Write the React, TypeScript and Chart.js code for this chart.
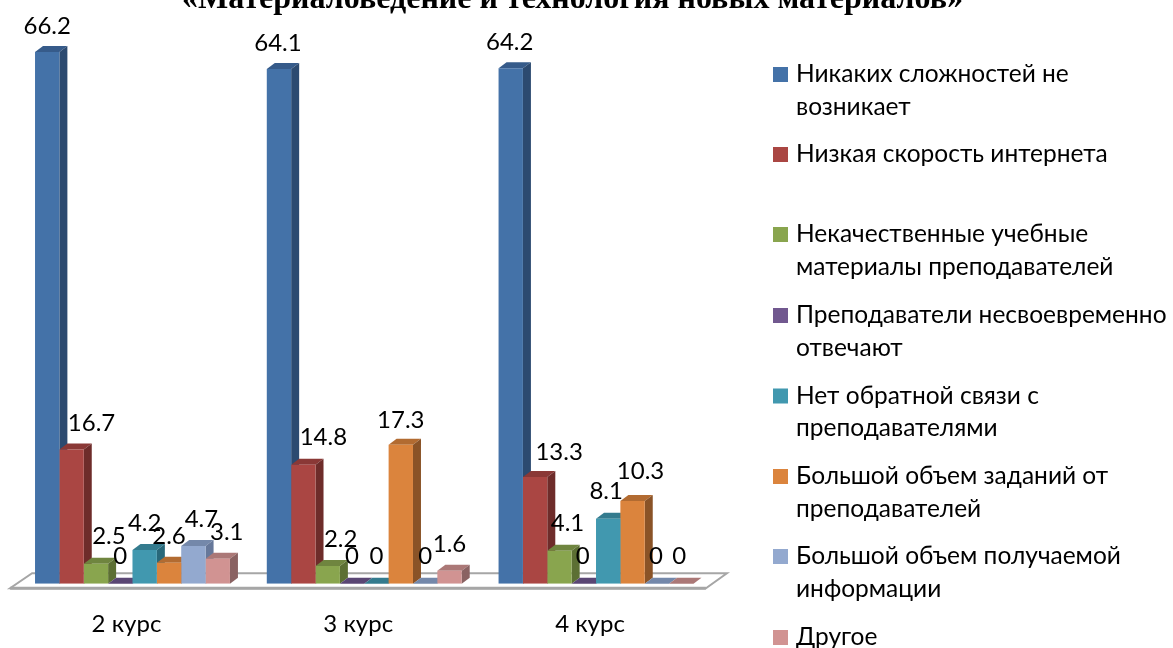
import React, { useEffect, useRef } from "react";
import { Chart, registerables } from "chart.js";

Chart.register(...registerables);

const TITLE = "«Материаловедение и технология новых материалов»";
const categories = ["2 курс", "3 курс", "4 курс"];
const seriesNames = [
  "Никаких сложностей не возникает",
  "Низкая скорость интернета",
  "Некачественные учебные материалы преподавателей",
  "Преподаватели несвоевременно отвечают",
  "Нет обратной связи с преподавателями",
  "Большой объем заданий от преподавателей",
  "Большой объем получаемой информации",
  "Другое",
];
const legendLines = [
  ["Никаких сложностей не", "возникает"],
  ["Низкая скорость интернета"],
  ["Некачественные учебные", "материалы преподавателей"],
  ["Преподаватели несвоевременно", "отвечают"],
  ["Нет обратной связи с", "преподавателями"],
  ["Большой объем заданий от", "преподавателей"],
  ["Большой объем получаемой", "информации"],
  ["Другое"],
];
const s1 = [66.2, 64.1, 64.2];
const s2 = [16.7, 14.8, 13.3];
const s3 = [2.5, 2.2, 4.1];
const s4 = [0, 0, 0];
const s5 = [4.2, 0, 8.1];
const s6 = [2.6, 17.3, 10.3];
const s7 = [4.7, 0, 0];
const s8 = [3.1, 1.6, 0];
const seriesValues = [s1, s2, s3, s4, s5, s6, s7, s8];

const frontColors = ["#4472a8", "#aa4643", "#89a54e", "#71588f", "#4198af", "#db843d", "#93a9cf", "#d19392"];
const topColors = ["#365b8a", "#8a3836", "#6f853f", "#5a4674", "#347b8e", "#b26b31", "#7488aa", "#ab7877"];
const sideColors = ["#2c4a70", "#6e2c2a", "#5c6f33", "#4a3a5f", "#28687a", "#8a5327", "#66789a", "#8a6262"];

// label offsets from the bar's top-centre (text centre x, baseline y), by series then category
const labelDx = [
  [0, -1, -1],
  [20, 20, 24],
  [13, 13, 8],
  [0, 0, -1],
  [0, 0, -2],
  [0, 0, 8],
  [8, 0, -1],
  [9, 0, -2],
];
const labelDy = [
  [-18, -18, -18],
  [-19, -20, -17],
  [-20, -19, -20],
  [-20, -20, -20],
  [-19, -20, -20],
  [-19, -17, -22],
  [-19, -20, -20],
  [-19, -19, -20],
];

const LEGEND_Y = [82, 162, 242, 323, 403.5, 484, 564, 645];
const LEGEND_LEADING = 32.5;
const FONT = "Lato, 'Open Sans', sans-serif";
const DEPTH_X = 8;
const DEPTH_Y = 6;

const poly = (ctx: CanvasRenderingContext2D, pts: number[][], fill: string) => {
  ctx.beginPath();
  pts.forEach((p, i) => (i ? ctx.lineTo(p[0], p[1]) : ctx.moveTo(p[0], p[1])));
  ctx.closePath();
  ctx.fillStyle = fill;
  ctx.fill();
};

const decor = {
  id: "decor",
  beforeDatasetsDraw(chart: any) {
    const { ctx, chartArea: a } = chart;
    // floor
    ctx.save();
    const fy = a.bottom + 4.5;
    const by = a.bottom - 10.5;
    ctx.beginPath();
    ctx.moveTo(a.left - 6.5, fy);
    ctx.lineTo(a.right - 6, fy);
    ctx.lineTo(a.right + 15, by);
    ctx.lineTo(a.left + 15.5, by);
    ctx.closePath();
    ctx.strokeStyle = "#a6a6a6";
    ctx.lineWidth = 2;
    ctx.stroke();
    ctx.beginPath();
    ctx.moveTo(a.left - 6.5, fy);
    ctx.lineTo(a.right - 6, fy);
    ctx.lineWidth = 3;
    ctx.stroke();
    ctx.restore();
    // depth faces, left to right
    categories.forEach((_, c) => {
      seriesValues.forEach((_, s) => {
        const bar = chart.getDatasetMeta(s).data[c];
        const half = bar.width / 2;
        const l = bar.x - half;
        const r = bar.x + half;
        const t = bar.y;
        const b = bar.base;
        poly(ctx, [[l, t], [r, t], [r + DEPTH_X, t - DEPTH_Y], [l + DEPTH_X, t - DEPTH_Y]], topColors[s]);
        if (b - t > 0.5) {
          poly(ctx, [[r, t], [r, b], [r + DEPTH_X, b - DEPTH_Y], [r + DEPTH_X, t - DEPTH_Y]], sideColors[s]);
        }
      });
    });
  },
  afterDatasetsDraw(chart: any) {
    const { ctx } = chart;
    ctx.save();
    ctx.fillStyle = "#000";
    ctx.textBaseline = "alphabetic";
    // data labels
    ctx.font = `24px ${FONT}`;
    ctx.textAlign = "center";
    seriesValues.forEach((vals, s) => {
      vals.forEach((v, c) => {
        const bar = chart.getDatasetMeta(s).data[c];
        ctx.fillText(String(v), bar.x + labelDx[s][c], bar.y + labelDy[s][c]);
      });
    });
    // title
    ctx.font = "bold 32px 'Liberation Serif', serif";
    ctx.fillText(TITLE, 572.5, 8);
    // legend
    ctx.font = `24.5px ${FONT}`;
    ctx.textAlign = "left";
    legendLines.forEach((lines, i) => {
      ctx.fillStyle = frontColors[i];
      ctx.fillRect(773, LEGEND_Y[i] - 15, 15, 15);
      ctx.fillStyle = "#000";
      lines.forEach((line, j) => ctx.fillText(line, 796, LEGEND_Y[i] + j * LEGEND_LEADING));
    });
    ctx.restore();
  },
};

export default function App() {
  const ref = useRef<HTMLCanvasElement>(null);
  useEffect(() => {
    const chart = new Chart(ref.current!, {
      type: "bar",
      data: {
        labels: categories,
        datasets: seriesValues.map((data, i) => ({
          label: seriesNames[i],
          data,
          backgroundColor: frontColors[i],
          borderWidth: 0,
          barPercentage: 1,
          categoryPercentage: 0.841,
        })),
      },
      options: {
        responsive: false,
        animation: false,
        layout: { padding: { left: 16.6, right: 461.1, top: 21.6, bottom: 0 } },
        plugins: { legend: { display: false }, tooltip: { enabled: false }, title: { display: false } },
        scales: {
          x: {
            grid: { display: false, drawTicks: false },
            border: { display: false },
            ticks: { color: "#000", font: { family: FONT, size: 24 }, padding: 26, maxRotation: 0, labelOffset: -6 },
            afterFit: (s: any) => { s.height = 64.3; },
          },
          y: { display: false, min: 0, max: 70 },
        },
      },
      plugins: [decor],
    });
    return () => chart.destroy();
  }, []);
  return (
    <div style={{ position: "absolute", left: 0, top: 0, width: 1173, height: 648, background: "#fff" }}>
      <canvas ref={ref} width={1173} height={648} style={{ display: "block" }} />
    </div>
  );
}
